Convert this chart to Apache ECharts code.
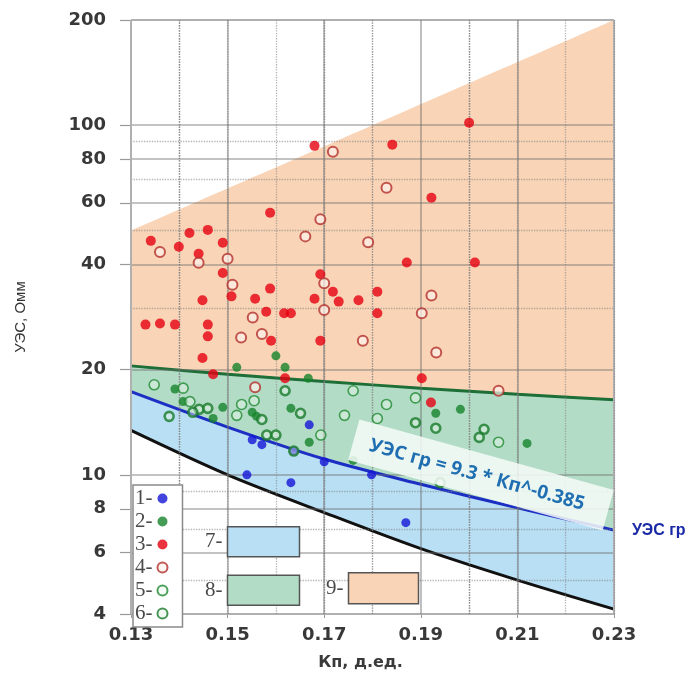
<!DOCTYPE html>
<html>
<head>
<meta charset="utf-8">
<script src="https://cdn.jsdelivr.net/npm/echarts@6/dist/echarts.min.js"></script>
<style>
  html, body { margin: 0; padding: 0; background: #fff; overflow: hidden; }
  #chart { width: 695px; height: 676px; }
</style>
</head>
<body>
<div id="chart"></div>
<script>
// Кп points where the zone boundaries are given (д.ед.)
const kpGrid = [0.13, 0.15, 0.17, 0.19, 0.21, 0.23];
// Upper edge of zone 9 (УЭС, Омм)
const upperEdge = [[0.13, 50], [0.23, 200]];
// УЭС of the zone boundaries at kpGrid
const greenEdge = [20.5, 19.4, 18.5, 17.7, 17.0, 16.4];
const uesGr = [17.3, 13.7, 11.1, 9.4, 8.05, 6.95];
const blackEdge = [13.4, 10.0, 7.8, 6.15, 5.0, 4.13];

// Axis ticks
const xTicks = [0.13, 0.15, 0.17, 0.19, 0.21, 0.23];
const xMinor = [0.135, 0.14, 0.145, 0.155, 0.16, 0.165, 0.175, 0.18, 0.185, 0.195, 0.2, 0.205, 0.215, 0.22, 0.225];
const yTicks = [4, 6, 8, 10, 20, 40, 60, 80, 100, 200];
const yMinor = [5, 7, 9, 30, 50, 70, 90];

// Samples: [Кп, УЭС]
const group1 = [[0.1669, 13.9], [0.1551, 12.6], [0.1571, 12.2], [0.1637, 11.7], [0.1700, 10.9],
  [0.1540, 10.0], [0.1631, 9.5], [0.1798, 10.0], [0.1869, 7.3]];
const group2 = [[0.1600, 21.9], [0.1519, 20.3], [0.1619, 20.3], [0.1667, 18.9], [0.1931, 15.0],
  [0.1982, 15.4], [0.2120, 12.3], [0.1391, 17.6], [0.1408, 16.2], [0.1490, 15.6], [0.1470, 14.5],
  [0.1551, 15.1], [0.1560, 14.7], [0.1631, 15.5], [0.1669, 12.4], [0.1760, 11.0]];
const group3 = [[0.1588, 56.2], [0.1341, 46.7], [0.1399, 44.9], [0.1421, 49.2], [0.1459, 50.2],
  [0.1440, 42.9], [0.1490, 46.1], [0.1490, 37.8], [0.1508, 32.4], [0.1448, 31.6], [0.1557, 31.9],
  [0.1588, 34.1], [0.1580, 29.3], [0.1617, 29.0], [0.1631, 29.0], [0.1330, 26.9], [0.1360, 27.1],
  [0.1391, 26.9], [0.1459, 26.9], [0.1459, 24.9], [0.1590, 24.2], [0.1448, 21.6], [0.1470, 19.4],
  [0.1619, 18.9], [0.2000, 101.6], [0.1680, 87.3], [0.1841, 88.0], [0.1922, 62.0], [0.1871, 40.5],
  [0.2012, 40.5], [0.1692, 37.5], [0.1718, 33.4], [0.1680, 31.9], [0.1730, 31.3], [0.1771, 31.6],
  [0.1810, 33.4], [0.1810, 29.0], [0.1692, 24.2], [0.1902, 18.9], [0.1921, 16.1]];
const group4 = [[0.1360, 43.4], [0.1440, 40.4], [0.1500, 41.5], [0.1510, 35.0], [0.1552, 28.2],
  [0.1528, 24.7], [0.1571, 25.3], [0.1718, 84.0], [0.1829, 66.3], [0.1692, 53.8], [0.1661, 48.1],
  [0.1791, 46.3], [0.1700, 35.3], [0.1922, 32.6], [0.1700, 29.6], [0.1902, 29.0], [0.1780, 24.2],
  [0.1932, 22.4], [0.2061, 17.4], [0.1557, 17.8]];
const group5 = [[0.1348, 18.1], [0.1408, 17.7], [0.1422, 16.2], [0.1529, 15.9], [0.1555, 16.3],
  [0.1519, 14.8], [0.1693, 13.0], [0.1742, 14.8], [0.1760, 17.4], [0.1829, 15.9], [0.1889, 16.6],
  [0.2061, 12.4], [0.1810, 14.5]];
const group6 = [[0.1379, 14.7], [0.1441, 15.4], [0.1459, 15.5], [0.1428, 15.1], [0.1571, 14.4],
  [0.1581, 13.0], [0.1600, 13.0], [0.1651, 15.0], [0.1619, 17.4], [0.1889, 14.1], [0.1931, 13.6],
  [0.2031, 13.5], [0.2021, 12.8], [0.1940, 9.5], [0.1637, 11.7]];

const ORANGE = '#f9d4b6';
const GREEN = '#b3dcc6';
const BLUE = '#b8dff4';

const pairs = vals => kpGrid.map((k, i) => [k, vals[i]]);

const solidGrid = { color: 'rgba(110,110,110,0.55)', width: 1.6, type: 'solid' };
const dottedGrid = { color: 'rgba(130,130,130,0.6)', width: 1.3, type: 'dotted' };
const frame = { color: '#b0b0b0', width: 2, type: 'solid' };

const gridLines = [];
yTicks.forEach(v => gridLines.push({ yAxis: v, lineStyle: (v === 4 || v === 200) ? frame : solidGrid }));
yMinor.forEach(v => gridLines.push({ yAxis: v, lineStyle: dottedGrid }));
xTicks.forEach((v, i) => gridLines.push({ xAxis: v, lineStyle: (i === 0 || i === xTicks.length - 1) ? frame : solidGrid }));
xMinor.forEach(v => gridLines.push({ xAxis: v, lineStyle: dottedGrid }));

const axisFont = { fontFamily: 'DejaVu Sans', fontSize: 18, fontWeight: 'bold', color: '#383838' };
const legendText = { fontFamily: 'Liberation Serif', fontSize: 21, lineHeight: 20, color: '#4a4a4a' };

function zone(name, data, color) {
  return {
    name, type: 'line', data, symbol: 'none', smooth: 0.3, silent: true, z: 1,
    lineStyle: { width: 0 }, itemStyle: { color },
    areaStyle: { color, opacity: 1, origin: 'start' }
  };
}
function edge(name, data, color, extra) {
  return Object.assign({
    name, type: 'line', data, symbol: 'none', smooth: 0.3, silent: true, z: 3,
    lineStyle: { color, width: 3 }, itemStyle: { color }
  }, extra || {});
}
function dots(name, data, size, style) {
  return { name, type: 'scatter', data, symbol: 'circle', symbolSize: size, z: 5, itemStyle: style };
}

// Formula caption: a tilted translucent plate with the fitted relation
const capAngle = -15.5 * Math.PI / 180;
const capX = 481, capY = 475;

const chart = echarts.init(document.getElementById('chart'));
chart.setOption({
  animation: false,
  backgroundColor: '#fff',
  grid: { left: 131, top: 20, width: 483, height: 602, containLabel: false },
  xAxis: {
    type: 'value', min: 0.13, max: 0.23,
    name: 'Кп, д.ед.', nameLocation: 'middle', nameGap: 41,
    nameTextStyle: { fontFamily: 'DejaVu Sans', fontSize: 16, fontWeight: 'bold', color: '#3a3a3a', padding: [0, 24, 0, 0] },
    axisLine: { show: false },
    axisTick: { show: true, length: 4, lineStyle: { color: '#999' }, customValues: xTicks },
    axisLabel: { margin: 12, customValues: xTicks, formatter: v => v.toFixed(2), ...axisFont },
    splitLine: { show: false }
  },
  yAxis: {
    type: 'log', logBase: 10, min: 4, max: 200,
    name: 'УЭС, Омм', nameLocation: 'middle', nameGap: 103, nameRotate: 90,
    nameTextStyle: { fontFamily: 'Liberation Sans', fontSize: 15, color: '#333' },
    axisLine: { show: false },
    axisTick: { show: true, length: 11, lineStyle: { color: '#999', width: 1.2 }, customValues: yTicks },
    axisLabel: { margin: 25, customValues: yTicks, formatter: v => String(Math.round(v)), ...axisFont },
    splitLine: { show: false }
  },
  legend: [
    {
      data: ['1-', '2-', '3-', '4-', '5-', '6-'], orient: 'vertical', left: 133, top: 485,
      align: 'right', itemWidth: 10, itemHeight: 10, itemGap: 2, padding: [3, 14, 3, 2],
      backgroundColor: '#fff', borderColor: '#8a8a8a', borderWidth: 1.5,
      textStyle: legendText, selectedMode: false, z: 20
    },
    {
      data: ['7-', '8-'], orient: 'vertical', left: 205, top: 526, align: 'right', icon: 'rect',
      itemWidth: 72, itemHeight: 30, itemGap: 17, padding: 0,
      itemStyle: { borderColor: '#555', borderWidth: 1.5 },
      textStyle: legendText, selectedMode: false, z: 20
    },
    {
      data: ['9-'], orient: 'vertical', left: 326, top: 572, align: 'right', icon: 'rect',
      itemWidth: 70, itemHeight: 31, padding: 0,
      itemStyle: { borderColor: '#555', borderWidth: 1.5 },
      textStyle: legendText, selectedMode: false, z: 20
    }
  ],
  graphic: {
    elements: [
      {
        type: 'rect', x: capX, y: capY, rotation: capAngle, z: 40,
        shape: { x: -132, y: -21, width: 264, height: 42 },
        style: { fill: 'rgba(246,251,248,0.86)' }
      },
      {
        type: 'text', x: capX - 4, y: capY, rotation: capAngle, z: 41,
        style: { text: 'УЭС гр = 9.3 * Кп^-0.385', align: 'center', verticalAlign: 'middle',
                 fill: '#1f6fb2', font: 'bold 19px "Open Sans"' }
      }
    ]
  },
  series: [
    zone('9-', upperEdge, ORANGE),
    zone('8-', pairs(greenEdge), GREEN),
    zone('7-', pairs(uesGr), BLUE),
    zone('base', pairs(blackEdge), '#ffffff'),
    {
      name: 'grid', type: 'scatter', data: [], z: 2, silent: true,
      markLine: { silent: true, symbol: ['none', 'none'], label: { show: false }, animation: false, data: gridLines }
    },
    edge('green-edge', pairs(greenEdge), '#1e6e38'),
    edge('УЭС гр', pairs(uesGr), '#1c2fc4', {
      endLabel: { show: true, formatter: 'УЭС гр', color: '#1a2aa6', fontFamily: 'Liberation Sans',
                  fontSize: 16, fontWeight: 'bold', distance: 18 }
    }),
    edge('black-edge', pairs(blackEdge), '#111111'),
    dots('1-', group1, 9, { color: '#1414d6' }),
    dots('2-', group2, 9, { color: '#15832a' }),
    dots('3-', group3, 10, { color: '#e60010' }),
    dots('4-', group4, 10, { color: 'rgba(255,244,236,0.85)', borderColor: '#b3302c', borderWidth: 2 }),
    dots('5-', group5, 10, { color: 'rgba(240,250,240,0.5)', borderColor: '#1f8a31', borderWidth: 1.6 }),
    dots('6-', group6, 9, { color: 'rgba(225,242,228,0.6)', borderColor: '#187a2a', borderWidth: 2.6 })
  ]
});
</script>
</body>
</html>
